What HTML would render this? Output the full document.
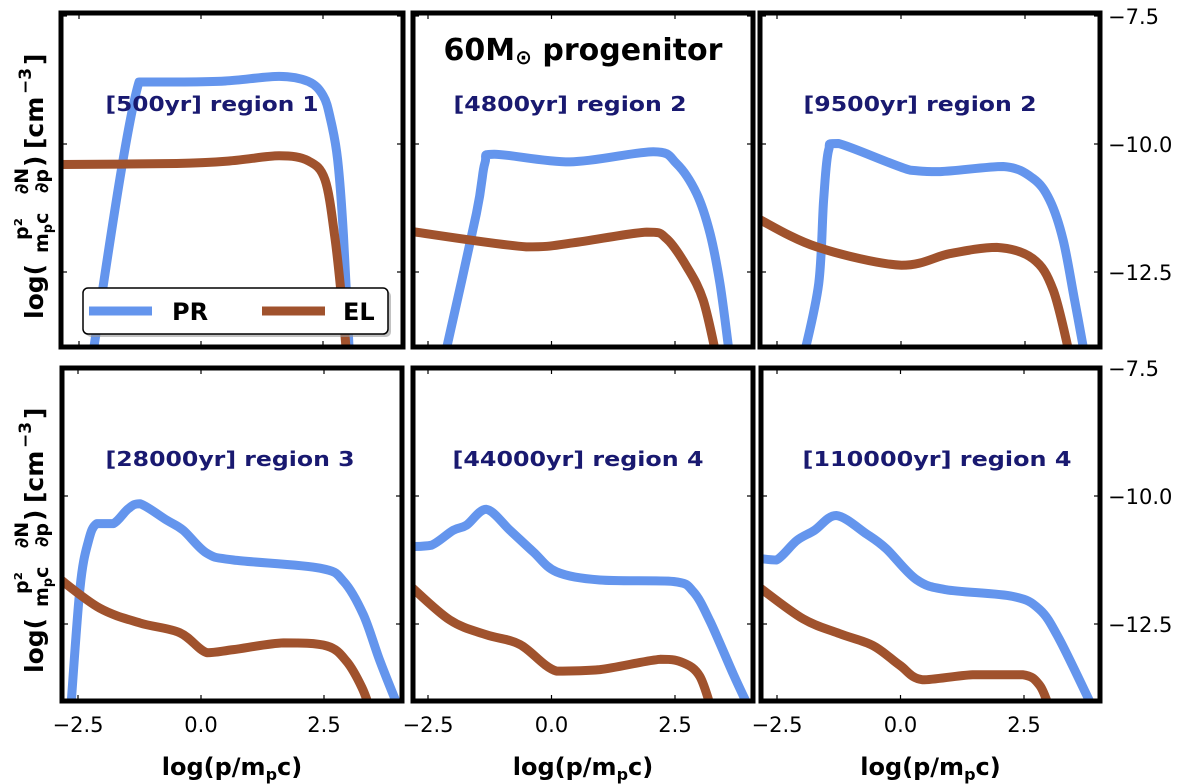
<!DOCTYPE html>
<html><head><meta charset="utf-8"><style>
html,body{margin:0;padding:0;background:#fff;}
svg{display:block;font-family:"DejaVu Sans","Liberation Sans",sans-serif;}
</style></head><body>
<svg id="chart" width="1200" height="784" viewBox="0 0 1200 784" xmlns="http://www.w3.org/2000/svg">
<defs id="defs"></defs>
<g id="panels"></g>
<text x="583" y="60" font-size="30" font-weight="bold" text-anchor="middle">60M<tspan font-size="20" dy="4">⊙</tspan><tspan dy="-4"> progenitor</tspan></text>
<g id="ytitles"></g>
<g>
<rect x="86" y="291" width="305" height="46" rx="5" fill="#999" opacity="0.6"/>
<rect x="83" y="288" width="305" height="46" rx="5" fill="#fff" stroke="#000" stroke-width="1.5"/>
<line x1="89" y1="311" x2="152" y2="311" stroke="#6495ED" stroke-width="9"/>
<text x="172" y="320" font-size="24" font-weight="bold">PR</text>
<line x1="262" y1="311" x2="325" y2="311" stroke="#A0522D" stroke-width="9"/>
<text x="343" y="320" font-size="24" font-weight="bold">EL</text>
</g>
</svg>
<script>
const panelLabels = ["[500yr] region 1","[4800yr] region 2","[9500yr] region 2","[28000yr] region 3","[44000yr] region 4","[110000yr] region 4"];
const xTicks = [-2.5, 0, 2.5];
const yTicks = [-7.5, -10, -12.5];
const xTickLabels = ["−2.5","0.0","2.5"];
const yTickLabels = ["−7.5","−10.0","−12.5"];
const prX = [
 [-2.25,-1.27,-0.5,0.5,1.6,2.2,2.5,2.65,2.8,2.92,3.05],
 [-2.15,-1.52,-1.35,-1.15,0.37,2.06,2.53,2.94,3.21,3.41,3.6],
 [-1.95,-1.66,-1.56,-1.46,-1.26,0.18,0.79,2.06,2.66,3.0,3.27,3.5,3.7],
 [-2.65,-2.46,-2.29,-2.12,-1.78,-1.48,-1.24,-0.7,-0.36,0.12,0.66,2.42,2.9,3.3,3.64,4.0],
 [-2.85,-2.43,-1.99,-1.72,-1.32,-0.84,-0.37,0.1,0.98,2.47,2.87,3.21,3.68,3.98],
 [-2.85,-2.51,-2.1,-1.74,-1.3,-0.69,-0.29,0.32,0.92,2.27,2.81,3.21,3.85]
];
const prY = [
 [-14.3,-8.79,-8.79,-8.77,-8.68,-8.78,-9.05,-9.5,-10.3,-11.8,-14.3],
 [-14.1,-11.36,-10.38,-10.2,-10.35,-10.15,-10.38,-10.97,-11.75,-12.73,-14.1],
 [-14.1,-12.73,-11.1,-10.12,-9.99,-10.51,-10.54,-10.44,-10.67,-11.1,-11.88,-13.05,-14.1],
 [-14.2,-11.8,-10.89,-10.54,-10.54,-10.25,-10.15,-10.47,-10.67,-11.12,-11.25,-11.41,-11.67,-12.32,-13.23,-14.1],
 [-10.99,-10.96,-10.67,-10.57,-10.26,-10.67,-11.09,-11.48,-11.64,-11.67,-11.87,-12.45,-13.48,-14.1],
 [-11.22,-11.25,-10.87,-10.67,-10.38,-10.74,-11.03,-11.63,-11.83,-11.96,-12.21,-12.79,-14.05]
];
const elX = [
 [-2.9,-0.5,0.6,1.6,2.2,2.54,2.74,2.89,3.0],
 [-2.9,-0.51,0.44,1.93,2.33,2.74,3.07,3.35],
 [-2.9,-1.7,0.01,0.99,1.93,2.66,3.07,3.42],
 [-2.9,-2.06,-1.24,-0.43,0.12,0.66,1.68,2.56,2.96,3.27,3.45],
 [-2.9,-2.06,-1.32,-0.64,0.1,0.98,2.2,2.67,3.0,3.25],
 [-2.85,-1.97,-1.23,-0.56,-0.02,0.45,1.46,2.47,2.81,3.0]
];
const elY = [
 [-10.4,-10.38,-10.33,-10.23,-10.33,-10.7,-11.8,-13.1,-14.3],
 [-11.7,-12.01,-11.93,-11.72,-11.85,-12.4,-13.05,-14.2],
 [-11.45,-12.01,-12.37,-12.14,-12.02,-12.24,-12.86,-14.2],
 [-11.6,-12.19,-12.48,-12.67,-13.06,-13.0,-12.87,-12.93,-13.23,-13.74,-14.2],
 [-11.72,-12.42,-12.71,-12.9,-13.42,-13.39,-13.19,-13.26,-13.52,-14.2],
 [-11.79,-12.4,-12.69,-12.92,-13.3,-13.59,-13.49,-13.49,-13.69,-14.1]
];
const NS = "http://www.w3.org/2000/svg";
const frames = [[61,13,403,347],[413,13,753,347],[760,13,1100,347],[62,368,402,701],[413,368,753,701],[761,368,1100,701]];
const xTickPx = [[79,323],[428,675],[777,1025],[78,324],[428,675],[777,1024]];
const yTickPx = [[144,272],[144,272],[144,272],[496,624],[496,624],[496,624]];
const labelY = [111,111,111,466,466,466];
const labelCX = [212,570,920,230,578,937];
const labelW = [213,233,233,249,251,269];
const g = document.getElementById("panels");
const defs = document.getElementById("defs");
function mk(tag, attrs, parent){const e=document.createElementNS(NS,tag);for(const k in attrs)e.setAttribute(k,attrs[k]);parent.appendChild(e);return e;}
function clampv(v,a,b){const lo=Math.min(a,b),hi=Math.max(a,b);return Math.max(lo,Math.min(hi,v));}
function smooth(pts){
 let d="M"+pts[0][0].toFixed(1)+","+pts[0][1].toFixed(1);
 for(let i=0;i<pts.length-1;i++){
  const p0=pts[Math.max(0,i-1)],p1=pts[i],p2=pts[i+1],p3=pts[Math.min(pts.length-1,i+2)];
  const c1=[p1[0]+(p2[0]-p0[0])/6,clampv(p1[1]+(p2[1]-p0[1])/6,p1[1],p2[1])];
  const c2=[p2[0]-(p3[0]-p1[0])/6,clampv(p2[1]-(p3[1]-p1[1])/6,p1[1],p2[1])];
  d+=" C"+c1[0].toFixed(1)+","+c1[1].toFixed(1)+" "+c2[0].toFixed(1)+","+c2[1].toFixed(1)+" "+p2[0].toFixed(1)+","+p2[1].toFixed(1);
 }
 return d;
}
for(let i=0;i<6;i++){
 const [x0,y0,x1,y1]=frames[i];
 const xs=v=>xTickPx[i][0]+(v+2.5)*(xTickPx[i][1]-xTickPx[i][0])/5;
 const ys=v=>yTickPx[i][0]+(-10-v)*(yTickPx[i][1]-yTickPx[i][0])/2.5;
 const cp=mk("clipPath",{id:"clip"+i},defs);
 mk("rect",{x:x0,y:y0,width:x1-x0,height:y1-y0},cp);
 const pg=mk("g",{},g);
 
 
 const lg=mk("g",{"clip-path":"url(#clip"+i+")"},pg);
 const pr=mk("path",{d:smooth(prX[i].map((x,j)=>[xs(x),ys(prY[i][j])])),fill:"none",stroke:"#6495ED","stroke-width":9,"stroke-linejoin":"round"},lg);
 
 
 const el=mk("path",{d:smooth(elX[i].map((x,j)=>[xs(x),ys(elY[i][j])])),fill:"none",stroke:"#A0522D","stroke-width":9,"stroke-linejoin":"round"},lg);
 
 
 xTicks.forEach((t,k)=>{
  const px=xs(t);
  mk("line",{x1:px,x2:px,y1:y0,y2:y0+6,stroke:"#000","stroke-width":1.2},pg);
  mk("line",{x1:px,x2:px,y1:y1,y2:y1-6,stroke:"#000","stroke-width":1.2},pg);
  if(i>=3){const tl=mk("text",{x:px,y:732,"font-size":21,"text-anchor":"middle"},pg);tl.textContent=xTickLabels[k];
   
   }
 });
 yTicks.forEach((t,k)=>{
  const py=ys(t);
  if(py<y0-2)return;
  mk("line",{x1:x0,x2:x0+6,y1:py,y2:py,stroke:"#000","stroke-width":1.2},pg);
  mk("line",{x1:x1,x2:x1-6,y1:py,y2:py,stroke:"#000","stroke-width":1.2},pg);
  if(i==2||i==5){const tl=mk("text",{x:x1+8,y:py+8,"font-size":21},pg);tl.textContent=yTickLabels[k];
   
   }
 });
 mk("rect",{x:x0,y:y0,width:x1-x0,height:y1-y0,fill:"none",stroke:"#000","stroke-width":5},pg);
 const lab=mk("text",{x:labelCX[i],y:labelY[i],"font-size":20,"font-weight":"bold",fill:"#191970","text-anchor":"middle",textLength:labelW[i],lengthAdjust:"spacingAndGlyphs"},pg);
 lab.textContent=panelLabels[i];
 
 
 if(i>=3){const xt=mk("text",{x:(x0+x1)/2,y:775,"font-size":24,"font-weight":"bold","text-anchor":"middle"},pg);
  xt.innerHTML='log(p/m<tspan font-size="16" dy="5">p</tspan><tspan dy="-5">c)</tspan>';
  
  }
}
const yt = document.getElementById("ytitles");
[183,537].forEach((cy,r)=>{
 const tg=mk("g",{transform:"translate(38,"+cy+") rotate(-90)"},yt);
 
 
 const t=(x,y,s,txt,anchor)=>{const e=mk("text",{x:x,y:y,"font-size":s,"font-weight":"bold","text-anchor":anchor||"start"},tg);e.textContent=txt;return e;};
 t(-136,5,25,"log(");
 t(-46,-10,19,"p²","middle");
 const dn=mk("text",{x:-70,y:10,"font-size":19,"font-weight":"bold"},tg);
 dn.innerHTML='m<tspan font-size="13" dy="4">p</tspan><tspan dy="-4">c</tspan>';
 t(2,-10,19,"∂N","middle");
 t(2,10,19,"∂p","middle");
 t(16,5,25,")");
 t(34,5,25,"[cm");
 t(89,-7,17,"−3");
 t(118,5,25,"]");
});
</script>
</body></html>
